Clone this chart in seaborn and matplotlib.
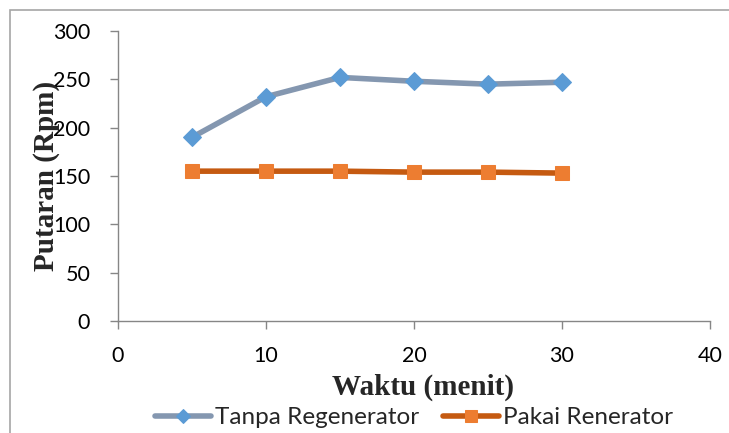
import matplotlib
matplotlib.use("Agg")
import matplotlib.pyplot as plt
import seaborn as sns
import pandas as pd
from matplotlib.patches import Rectangle

waktu = [5, 10, 15, 20, 25, 30]
tanpa = [190, 232, 252, 248, 245, 247]
pakai = [155, 155, 155, 154, 154, 153]
x_ticks = [0, 10, 20, 30, 40]
y_ticks = [0, 50, 100, 150, 200, 250, 300]

sns.set_theme(style="white")
plt.rcParams['font.family'] = ['Lato', 'DejaVu Sans']

df = pd.DataFrame({
    "Waktu": waktu * 2,
    "Putaran": tanpa + pakai,
    "Seri": ["Tanpa Regenerator"] * len(waktu) + ["Pakai Renerator"] * len(waktu),
})

fig = plt.figure(figsize=(7.29, 4.33), dpi=100)
ax = fig.add_axes([118/729, 1-321/433, (710-118)/729, (321-31)/433])

# outer chart frame
fig.patches.append(Rectangle((10/729, -0.1), 1.2, 1 - 10/433 + 0.1, transform=fig.transFigure,
                             fill=False, edgecolor="#A6A6A6", linewidth=1.2, zorder=0))

sns.lineplot(data=df[df.Seri == "Tanpa Regenerator"], x="Waktu", y="Putaran", ax=ax,
             color="#8497B0", linewidth=4, marker="D", markersize=9,
             markerfacecolor="#5B9BD5", markeredgecolor="#5B9BD5", label="Tanpa Regenerator")
sns.lineplot(data=df[df.Seri == "Pakai Renerator"], x="Waktu", y="Putaran", ax=ax,
             color="#C55A11", linewidth=4, marker="s", markersize=10,
             markerfacecolor="#ED7D31", markeredgecolor="#ED7D31", label="Pakai Renerator")

ax.set_xlim(0, 40)
ax.set_ylim(0, 300)
ax.set_xticks(x_ticks)
ax.set_yticks(y_ticks)
ax.tick_params(axis="both", labelsize=15.5, colors="#000000", length=6, width=1, direction="out",
               bottom=True, left=True)
ax.tick_params(axis="y", pad=14)
ax.tick_params(axis="x", pad=12)
ax.tick_params(axis="both", color="#868686")
for s in ["top", "right"]:
    ax.spines[s].set_visible(False)
for s in ["left", "bottom"]:
    ax.spines[s].set_color("#868686")
    ax.spines[s].set_linewidth(1)

serif = ["Liberation Serif", "DejaVu Serif"]
ax.set_xlabel("Waktu (menit)", fontsize=21, fontweight="bold", family=serif)
ax.xaxis.set_label_coords(0.516, -0.18)
ax.set_ylabel("Putaran (Rpm)", fontsize=21, fontweight="bold", family=serif)
ax.yaxis.set_label_coords(-0.098, 0.5)

leg = ax.legend(loc="center", bbox_to_anchor=(0.5, -0.334), ncol=2, frameon=False,
                fontsize=17.5, handlelength=2.3, handletextpad=0.2, columnspacing=0.95,
                borderaxespad=0, borderpad=0, markerscale=0.8)

fig.savefig("out.png", dpi=100)
